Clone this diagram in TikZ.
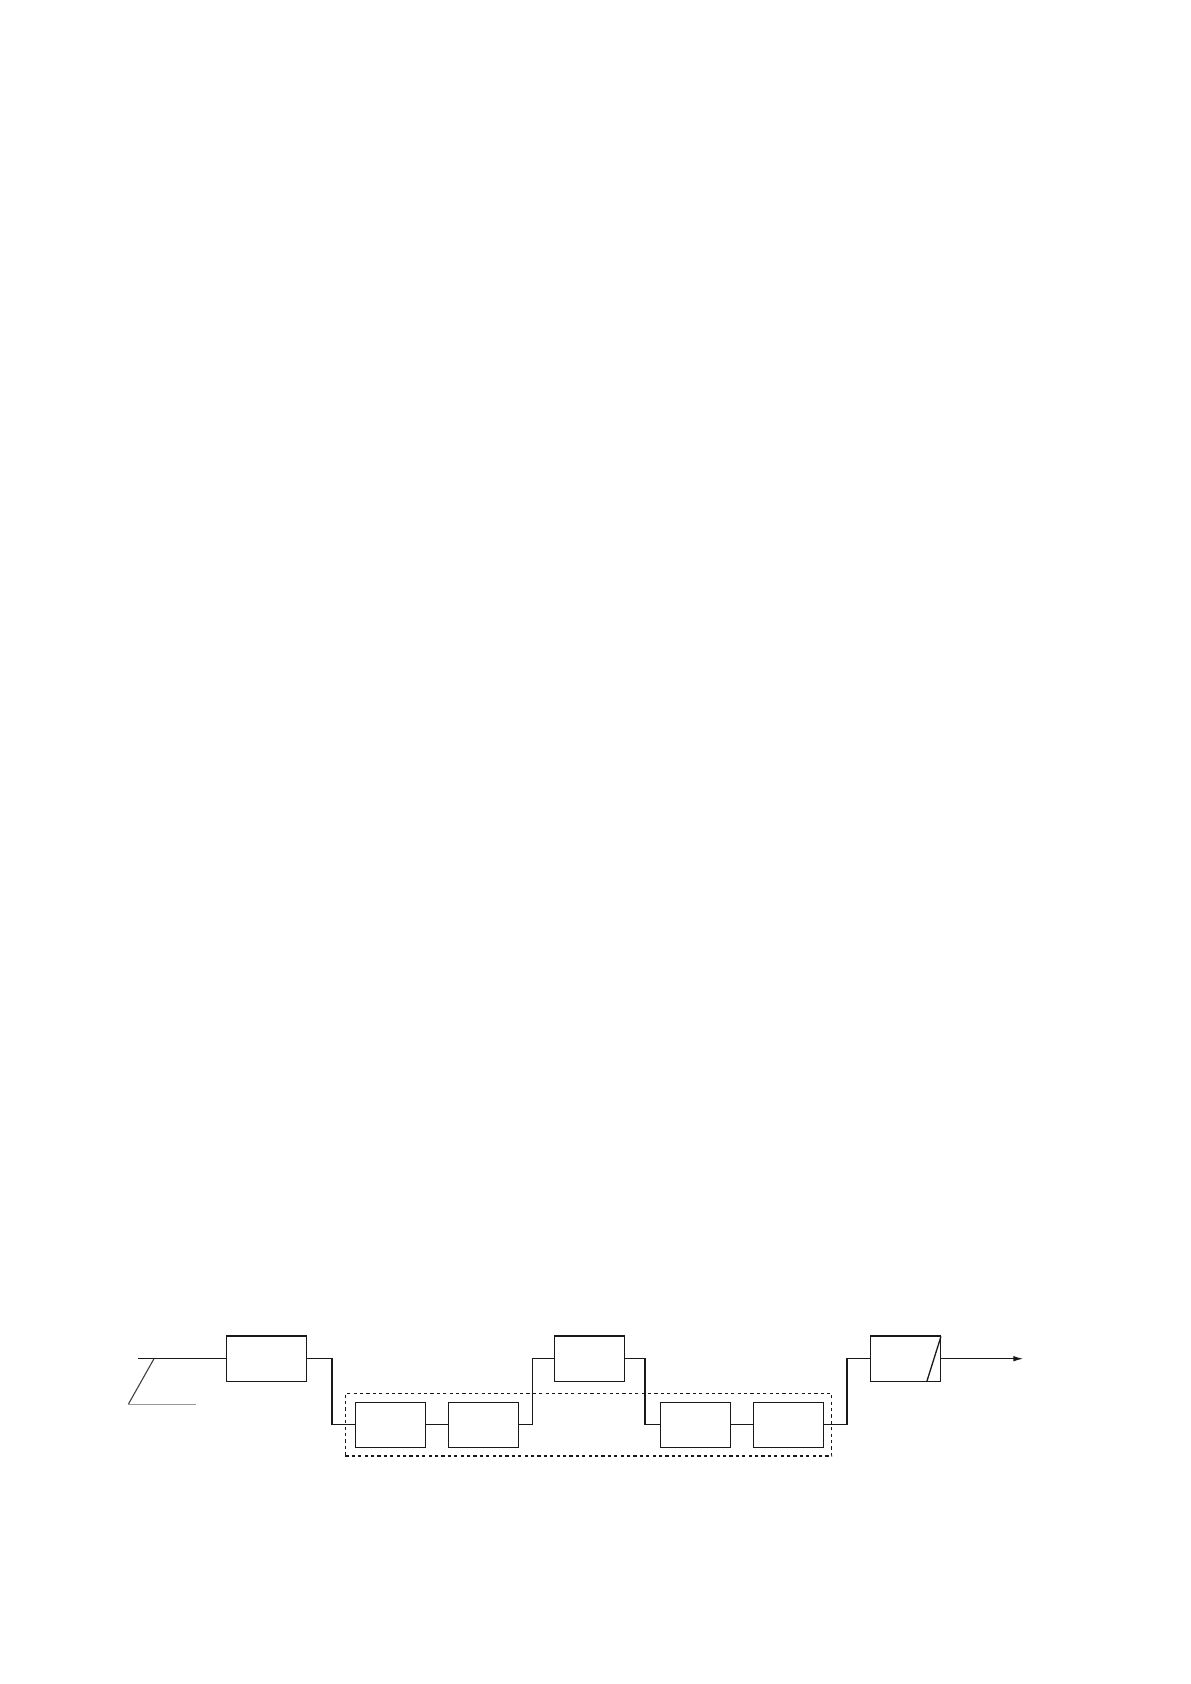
\documentclass[tikz,border=0pt]{standalone}
\usetikzlibrary{arrows.meta,calc}
\begin{document}
\begin{tikzpicture}[x=0.5pt,y=-0.5pt,
  blk/.style={draw=black!90,line width=0.65pt,minimum width=35pt,minimum height=22.6pt,inner sep=0pt},
  wblk/.style={blk,minimum width=40.2pt},
  wire/.style={draw=black!90,line width=0.65pt}]
\useasboundingbox (0,0) rectangle (1190,1684);
\node[wblk] (b1) at (266.5,1358.7) {};
\node[blk] (b2) at (390.8,1424.8) {};
\node[blk] (b3) at (483.8,1424.8) {};
\node[blk] (b4) at (589.3,1358.7) {};
\node[blk] (b5) at (695.3,1424.8) {};
\node[blk] (b6) at (788.3,1424.8) {};
\node[blk] (b7) at (905.3,1358.7) {};
\node[draw=black!90,dash pattern=on 1.6pt off 1.6pt,line width=0.6pt,inner sep=0pt,
      minimum width=243.2pt,minimum height=31.35pt] (grp) at (588.5,1424.7) {};
\coordinate (in) at (138.3,1358.7);
\coordinate (s1) at (154,1358.7);
\coordinate (s2) at (128.3,1404.3);
\coordinate (s3) at (196,1404.3);
\coordinate (out) at (1023.3,1358.7);
\draw[wire] (in) -- (b1.west);
\draw[draw=black!75,line width=0.55pt] (s1) -- (s2);
\draw[draw=black!40,line width=0.6pt] (s2) -- (s3);
\draw[wire] (b1.east) -- ++(24.6,0) |- (b2.west);
\draw[wire] (b2.east) -- (b3.west);
\draw[wire] (b3.east) -- ++(13,0) |- (b4.west);
\draw[wire] (b4.east) -- ++(20,0) |- (b5.west);
\draw[wire] (b5.east) -- (b6.west);
\draw[wire] (b6.east) -- ++(23,0) |- (b7.west);
\draw[wire] ($(b7.south east)+(-14.3,0)$) -- ($(b7.north east)+(0,1)$);
\draw[wire,-{Latex[length=5pt,width=2.8pt]}] (b7.east) -- (out);
\end{tikzpicture}
\end{document}
